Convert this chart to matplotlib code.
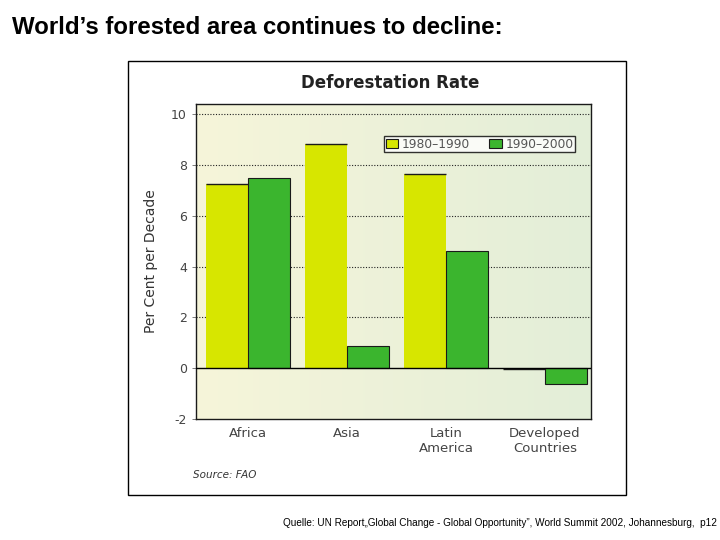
import numpy as np
import matplotlib
matplotlib.use("Agg")
import matplotlib.pyplot as plt
from matplotlib.patches import Rectangle
from matplotlib.colors import LinearSegmentedColormap

# Werte (Prozent pro Jahrzehnt)
regions = ["Africa", "Asia", "Latin\nAmerica", "Developed\nCountries"]
rate_1980_1990 = [7.27, 8.84, 7.66, -0.05]
rate_1990_2000 = [7.5, 0.87, 4.62, -0.64]
series_names = ["1980\u20131990", "1990\u20132000"]
y_ticks = [-2, 0, 2, 4, 6, 8, 10]

yellow = "#d7e600"
green = "#3bb52e"

fig = plt.figure(figsize=(7.2, 5.4), dpi=100)

# Rahmen um das eingebettete Diagramm
fig.patches.append(Rectangle((128 / 720, 1 - 495 / 540), 498 / 720, 434 / 540,
                             transform=fig.transFigure, facecolor="white",
                             edgecolor="black", linewidth=1.0, zorder=-1))

fig.text(12 / 720, 1 - 28 / 540, "World\u2019s forested area continues to decline:",
         fontsize=17.3, fontweight="bold", family="Liberation Sans", va="center")
fig.text(283 / 720, 1 - 523 / 540,
         "Quelle: UN Report\u201eGlobal Change - Global Opportunity\u201d, World Summit 2002, Johannesburg,  p12",
         fontsize=7.2, family="Liberation Sans", va="center")

ax = fig.add_axes([196.5 / 720, 1 - 419 / 540, 394.5 / 720, 315 / 540])
ax.set_zorder(2)

x = np.arange(len(regions))
w = 0.424

# Hintergrund mit Farbverlauf gelb -> gruen
cmap = LinearSegmentedColormap.from_list("bg", ["#f6f5da", "#e3eed8"])
ax.imshow(np.linspace(0, 1, 256).reshape(1, -1), cmap=cmap, aspect="auto",
          extent=[-0.522, 3.465, -2, 10.4], zorder=0)

ax.bar(x - w / 2, rate_1980_1990, w, color=yellow, zorder=2, label=series_names[0])
ax.bar(x + w / 2, rate_1990_2000, w, color=green, zorder=2, label=series_names[1],
       edgecolor="#1a1a1a", linewidth=0.8)
# dunkle Oberkante der gelben Balken
ax.hlines(rate_1980_1990, x - w, x, color="#1a1a1a", linewidth=1.0, zorder=3)

for yv in y_ticks[2:]:
    ax.axhline(yv, color="#222222", linestyle=(0, (1, 1.5)), linewidth=0.8, zorder=1)
ax.axhline(0, color="black", linewidth=1.0, zorder=3)

ax.set_xlim(-0.522, 3.465)
ax.set_ylim(-2, 10.4)
ax.set_yticks(y_ticks)
ax.set_yticklabels([str(t) for t in y_ticks], color="#444444", fontsize=9)
ax.set_xticks(x)
ax.set_xticklabels(regions, color="#444444", fontsize=9.5, linespacing=1.2)
ax.tick_params(axis="x", length=0, pad=6)
ax.tick_params(axis="y", length=3, width=0.6, color="#666666", pad=4)
for s in ax.spines.values():
    s.set_linewidth(1.0)
    s.set_color("#1a1a1a")
ax.set_ylabel("Per Cent per Decade", fontsize=10, color="#333333", labelpad=9)

leg = ax.legend(loc="upper right", bbox_to_anchor=(0.959, 0.898), ncol=2,
                frameon=True, fancybox=False, fontsize=8.8, handlelength=1.0,
                handleheight=0.8, handletextpad=0.3, columnspacing=1.6,
                borderpad=0.12, borderaxespad=0)
leg.get_frame().set_edgecolor("black")
leg.get_frame().set_linewidth(1.0)
for t in leg.get_texts():
    t.set_color("#555555")
for h in leg.legend_handles:
    h.set_edgecolor("#1a1a1a")
    h.set_linewidth(0.8)

fig.text(390 / 720, 1 - 83 / 540, "Deforestation Rate", fontsize=12,
         fontweight="bold", color="#222222", ha="center", va="center")
fig.text(193 / 720, 1 - 475 / 540, "Source: FAO", fontsize=7.5, style="italic",
         color="#333333", va="center")

fig.savefig("out.png", dpi=100)
